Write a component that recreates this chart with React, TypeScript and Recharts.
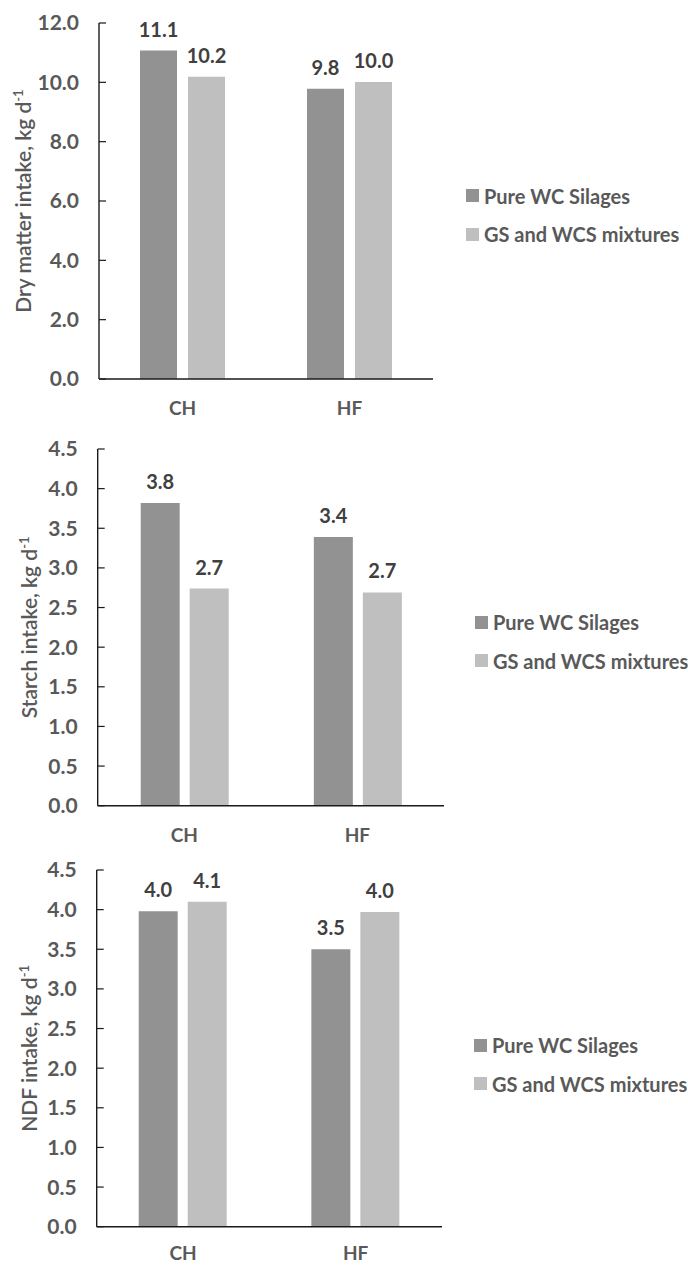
import React from "react";
import { BarChart, Bar, XAxis, YAxis, Legend, LabelList } from "recharts";

const categories = ["CH", "HF"];
const seriesNames = ["Pure WC Silages", "GS and WCS mixtures"];

// dry matter intake, kg/d
const dmiPure = [11.07, 9.78];
const dmiMix = [10.19, 10.01];
// starch intake, kg/d
const starchPure = [3.82, 3.39];
const starchMix = [2.74, 2.69];
// NDF intake, kg/d
const ndfPure = [3.98, 3.5];
const ndfMix = [4.1, 3.97];

const dmiTicks = [0, 2, 4, 6, 8, 10, 12];
const halfTicks = [0, 0.5, 1, 1.5, 2, 2.5, 3, 3.5, 4, 4.5];

const FONT = "Lato, 'Noto Sans', sans-serif";
const DARK = "#929292";
const LIGHT = "#bfbfbf";
const TEXT = "#595959";
const AXIS = "#1a1a1a";

const toRows = (a: number[], b: number[]) =>
  categories.map((c, i) => ({ name: c, pure: a[i], mix: b[i] }));

const fmt = (v: any) => Number(v).toFixed(1);

const renderLegend = (props: any) => {
  const items = [...props.payload].sort(
    (a: any, b: any) => seriesNames.indexOf(a.value) - seriesNames.indexOf(b.value)
  );
  return (
    <div>
      {items.map((entry: any) => (
        <div
          key={entry.value}
          style={{ display: "flex", alignItems: "center", height: 38.5 }}
        >
          <span
            style={{
              display: "inline-block",
              width: 13,
              height: 13,
              background: entry.color,
              marginRight: 5,
            }}
          />
          <span
            style={{
              fontFamily: FONT,
              fontSize: 20,
              fontWeight: 700,
              color: TEXT,
              whiteSpace: "nowrap",
            }}
          >
            {entry.value}
          </span>
        </div>
      ))}
    </div>
  );
};

const YTitle = (props: any) => {
  const { viewBox, title, bx } = props;
  const cx = viewBox.x + bx;
  const cy = viewBox.y + viewBox.height / 2;
  return (
    <text
      x={cx}
      y={cy}
      transform={`rotate(-90 ${cx} ${cy})`}
      textAnchor="middle"
      fill={TEXT}
      fontFamily={FONT}
      fontSize={21}
      fontWeight={600}
    >
      {title}
      <tspan dy={-8} fontSize={13}>
        -1
      </tspan>
    </text>
  );
};

type PanelProps = {
  top: number;
  height: number;
  margin: { top: number; right: number; bottom: number; left: number };
  axisWidth: number;
  rows: any[];
  domain: [number, number];
  ticks: number[];
  title: string;
  titleX: number;
  barSize: number;
  barGap: number;
  labelGap: number;
  legendPos: { left: number; top: number };
};

const Panel = (p: PanelProps) => (
  <div style={{ position: "absolute", left: 0, top: p.top }}>
    <BarChart
      width={688}
      height={p.height}
      data={p.rows}
      margin={p.margin}
      barGap={p.barGap}
    >
      <XAxis
        dataKey="name"
        height={30}
        tickLine={false}
        tickSize={0}
        tickMargin={p.labelGap}
        axisLine={{ stroke: AXIS, strokeWidth: 1.4 }}
        tick={{ fill: TEXT, fontSize: 19, fontWeight: 700, fontFamily: FONT }}
      />
      <YAxis
        width={p.axisWidth}
        domain={p.domain}
        ticks={p.ticks}
        interval={0}
        tickFormatter={fmt}
        tickSize={-7}
        tickMargin={27}
        axisLine={{ stroke: AXIS, strokeWidth: 1.4 }}
        tickLine={{ stroke: AXIS, strokeWidth: 1.2 }}
        tick={{ fill: TEXT, fontSize: 21, fontWeight: 700, fontFamily: FONT }}
        label={<YTitle title={p.title} bx={p.titleX} />}
      />
      <Legend
        layout="vertical"
        align="center"
        verticalAlign="middle"
        content={renderLegend}
        wrapperStyle={{ left: p.legendPos.left, top: p.legendPos.top, width: 230 }}
      />
      <Bar
        dataKey="pure"
        name={seriesNames[0]}
        fill={DARK}
        barSize={p.barSize}
        isAnimationActive={false}
      >
        <LabelList
          dataKey="pure"
          position="top"
          offset={14}
          formatter={fmt}
          fill="#404040"
          fontSize={20}
          fontWeight={700}
          fontFamily={FONT}
        />
      </Bar>
      <Bar
        dataKey="mix"
        name={seriesNames[1]}
        fill={LIGHT}
        barSize={p.barSize}
        isAnimationActive={false}
      >
        <LabelList
          dataKey="mix"
          position="top"
          offset={14}
          formatter={fmt}
          fill="#404040"
          fontSize={20}
          fontWeight={700}
          fontFamily={FONT}
        />
      </Bar>
    </BarChart>
  </div>
);

export default function App() {
  return (
    <div
      style={{
        position: "absolute",
        left: 0,
        top: 0,
        width: 688,
        height: 1265,
        background: "#fff",
      }}
    >
      <Panel
        top={0}
        height={425}
        margin={{ top: 23, right: 255, bottom: 16, left: 0 }}
        axisWidth={99}
        rows={toRows(dmiPure, dmiMix)}
        domain={[0, 12]}
        ticks={dmiTicks}
        title="Dry matter intake, kg d"
        titleX={31}
        barSize={37}
        barGap={11}
        labelGap={23}
        legendPos={{ left: 466, top: 176.5 }}
      />
      <Panel
        top={425}
        height={420}
        margin={{ top: 24, right: 244, bottom: 9.3, left: 0 }}
        axisWidth={97.7}
        rows={toRows(starchPure, starchMix)}
        domain={[0, 4.5]}
        ticks={halfTicks}
        title="Starch intake, kg d"
        titleX={37}
        barSize={39}
        barGap={10}
        labelGap={23}
        legendPos={{ left: 475, top: 178 }}
      />
      <Panel
        top={845}
        height={420}
        margin={{ top: 25, right: 246, bottom: 8.3, left: 0 }}
        axisWidth={96.7}
        rows={toRows(ndfPure, ndfMix)}
        domain={[0, 4.5]}
        ticks={halfTicks}
        title="NDF intake, kg d"
        titleX={37}
        barSize={39}
        barGap={10}
        labelGap={20}
        legendPos={{ left: 474, top: 181 }}
      />
    </div>
  );
}
